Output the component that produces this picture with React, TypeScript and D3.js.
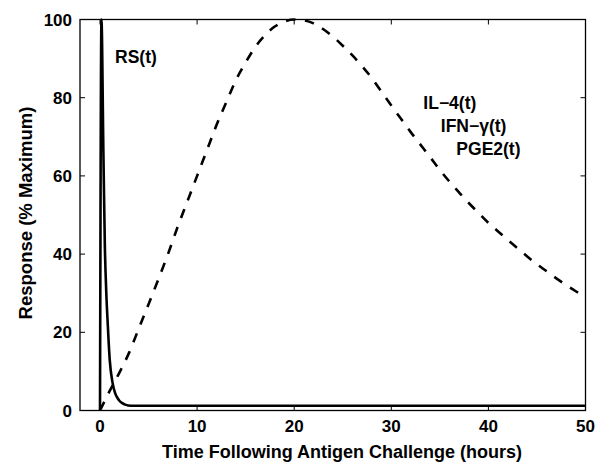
import React, { useEffect, useRef } from "react";
import * as d3 from "d3";

// dashed curve: IL-4 / IFN-gamma / PGE2 response (% max) vs hours
const slowTimes = [0, 1, 2, 3, 4, 5, 6, 7, 8, 9, 10, 11, 12, 13, 14, 15, 16, 17, 18, 19, 20, 21, 22, 23, 24, 25,
  26, 27, 28, 29, 30, 31, 32, 33, 34, 35, 36, 37, 38, 39, 40, 41, 42, 43, 44, 45, 46, 47, 48, 49, 50];
const slowValues = [0, 5, 9.7, 14.8, 21, 27.2, 33.5, 40, 47, 53.5, 60, 66.5, 73, 78.8, 84.5, 89, 93, 96, 98.2, 99.5,
  100, 99.8, 99, 97.5, 95.6, 93.3, 90.8, 88, 85, 81.5, 78, 74.6, 71.2, 68, 64.8, 61.5, 58.5, 55.7, 53, 50.5,
  48, 45.8, 43.6, 41.5, 39.4, 37.4, 35.6, 33.8, 32.1, 30.5, 29];

// solid curve: RS(t)
const rsTimes = [0, 0.15, 0.35, 0.5, 0.65, 0.8, 1.0, 1.3, 1.55, 1.8, 2.0, 2.3, 2.6, 2.9, 3.5, 50];
const rsValues = [0, 100, 66, 42, 30, 22, 13, 7, 4.5, 3.2, 2.5, 1.9, 1.5, 1.3, 1.2, 1.2];

const xTicks = [0, 10, 20, 30, 40, 50];
const yTicks = [0, 20, 40, 60, 80, 100];

const labels = [
  { text: "RS(t)", t: 1.55, v: 89 },
  { text: "IL\u22124(t)", t: 33.3, v: 77 },
  { text: "IFN\u2212\u03b3(t)", t: 35.1, v: 71.1 },
  { text: "PGE2(t)", t: 36.7, v: 65.4 },
];

const W = 601, H = 466;
const M = { left: 80, right: 15.5, top: 19.5, bottom: 55.5 };

const App = () => {
  const ref = useRef(null);

  useEffect(() => {
    const svg = d3.select(ref.current);
    svg.selectAll("*").remove();

    const x = d3.scaleLinear().domain([-2.06, 50]).range([M.left, W - M.right]);
    const y = d3.scaleLinear().domain([0, 100]).range([H - M.bottom, M.top]);
    const font = "'Liberation Sans', Arial, Helvetica, sans-serif";

    const g = svg.append("g");

    // box
    g.append("rect")
      .attr("x", M.left).attr("y", M.top)
      .attr("width", W - M.right - M.left).attr("height", H - M.bottom - M.top)
      .attr("fill", "none").attr("stroke", "#000").attr("stroke-width", 1.3);

    const tl = 5;
    xTicks.forEach(t => {
      g.append("line").attr("x1", x(t)).attr("x2", x(t)).attr("y1", y(0)).attr("y2", y(0) - tl)
        .attr("stroke", "#000").attr("stroke-width", 1);
      g.append("line").attr("x1", x(t)).attr("x2", x(t)).attr("y1", y(100)).attr("y2", y(100) + tl)
        .attr("stroke", "#000").attr("stroke-width", 1);
      g.append("text").attr("x", x(t)).attr("y", 432)
        .attr("text-anchor", "middle").attr("font-family", font).attr("font-weight", "bold")
        .attr("font-size", 17).text(t);
    });
    yTicks.forEach(v => {
      g.append("line").attr("x1", M.left).attr("x2", M.left + tl).attr("y1", y(v)).attr("y2", y(v))
        .attr("stroke", "#000").attr("stroke-width", 1);
      g.append("line").attr("x1", W - M.right).attr("x2", W - M.right - tl).attr("y1", y(v)).attr("y2", y(v))
        .attr("stroke", "#000").attr("stroke-width", 1);
      g.append("text").attr("x", M.left - 8).attr("y", y(v)).attr("dy", "0.36em")
        .attr("text-anchor", "end").attr("font-family", font).attr("font-weight", "bold")
        .attr("font-size", 17).text(v);
    });

    // axis titles
    g.append("text").attr("x", 342).attr("y", 457.5)
      .attr("text-anchor", "middle").attr("font-family", font).attr("font-weight", "bold")
      .attr("font-size", 18).text("Time Following Antigen Challenge (hours)");
    g.append("text").attr("transform", `translate(32,213) rotate(-90)`)
      .attr("text-anchor", "middle").attr("font-family", font).attr("font-weight", "bold")
      .attr("font-size", 18.5).text("Response (% Maximum)");

    const slowLine = d3.line<number>()
      .x((d, i) => x(slowTimes[i]))
      .y(d => y(d))
      .curve(d3.curveMonotoneX);
    g.append("path").datum(slowValues)
      .attr("d", slowLine)
      .attr("fill", "none").attr("stroke", "#000").attr("stroke-width", 2.6)
      .attr("stroke-dasharray", "9.5,9.5");

    const rsLine = d3.line<number>()
      .x((d, i) => x(rsTimes[i]))
      .y(d => y(d))
      .curve(d3.curveMonotoneX);
    g.append("path").datum(rsValues)
      .attr("d", rsLine)
      .attr("fill", "none").attr("stroke", "#000").attr("stroke-width", 2.6)
      .attr("stroke-linejoin", "miter");

    labels.forEach(l => {
      g.append("text").attr("x", x(l.t)).attr("y", y(l.v))
        .attr("font-family", font).attr("font-weight", "bold")
        .attr("font-size", 17.5).text(l.text);
    });
  }, []);

  return (
    <div>
      <svg ref={ref} width={W} height={H}
        style={{ position: "absolute", left: 0, top: 0, background: "#fff" }} />
    </div>
  );
};

export default App;
